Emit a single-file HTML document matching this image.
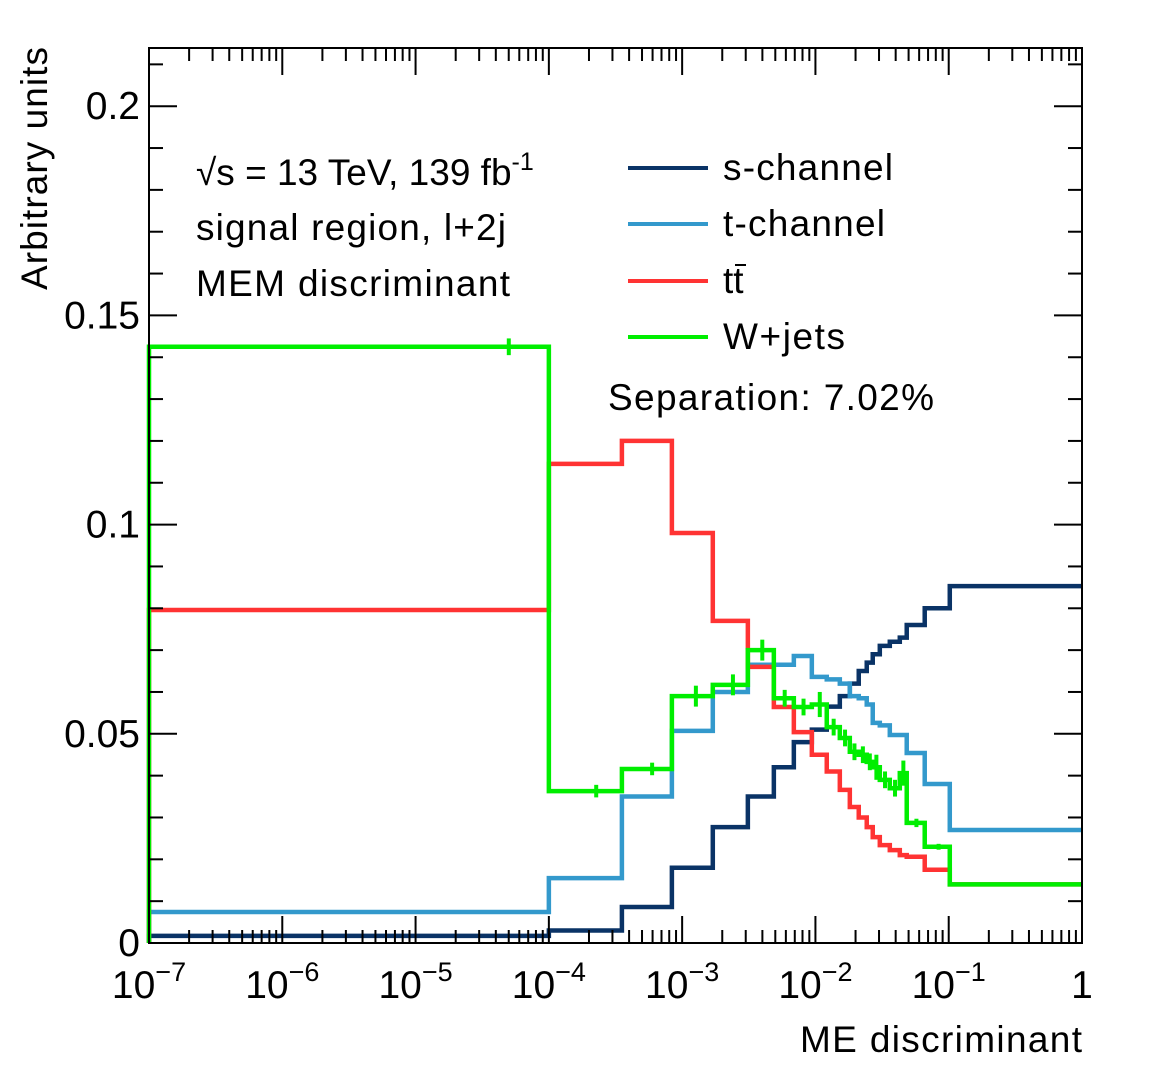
<!DOCTYPE html>
<html><head><meta charset="utf-8"><style>
body{margin:0;background:#fff}
svg{display:block;font-family:"Liberation Sans",sans-serif}
</style></head><body>
<svg id="chart" width="1152" height="1078" viewBox="0 0 1152 1078">
<rect width="1152" height="1078" fill="#fff"/>
<g id="plot"></g>
<g id="axes"></g>
<g id="legend">
<text x="196" y="185" font-size="37">√s = 13 TeV, 139 fb<tspan dy="-15" font-size="25">-1</tspan></text>
<text x="196" y="240" font-size="37" textLength="310">signal region, l+2j</text>
<text x="196" y="296" font-size="37" textLength="314">MEM discriminant</text>
<g><line x1="628" y1="168" x2="708" y2="168" stroke="#0a3366" stroke-width="4"/><text x="723" y="180" font-size="37" textLength="170">s-channel</text></g>
<g><line x1="628" y1="224" x2="708" y2="224" stroke="#3399cc" stroke-width="4"/><text x="723" y="236" font-size="37" textLength="162">t-channel</text></g>
<g><line x1="628" y1="281" x2="708" y2="281" stroke="#ff3333" stroke-width="4"/><text x="723" y="293" font-size="37">tt</text><line x1="735" y1="265" x2="746" y2="265" stroke="#000" stroke-width="2"/></g>
<g><line x1="628" y1="337" x2="708" y2="337" stroke="#00ee00" stroke-width="4"/><text x="723" y="349" font-size="37" textLength="122">W+jets</text></g>
<text x="608" y="410" font-size="37" textLength="326">Separation: 7.02%</text>
</g>
<text x="800" y="1052" font-size="37" textLength="282">ME discriminant</text>
<text transform="translate(47,290) rotate(-90)" font-size="37" textLength="243">Arbitrary units</text>
</svg>
<script>
const edgesLog = [-7,-4,-3.452,-3.077,-2.77,-2.507,-2.312,-2.162,-2.027,-1.915,-1.817,-1.742,-1.675,-1.615,-1.57,-1.517,-1.442,-1.367,-1.315,-1.18,-0.992,0];
const sChannel = [0.0017,0.003,0.0086,0.018,0.0277,0.035,0.042,0.048,0.051,0.0565,0.059,0.062,0.065,0.067,0.069,0.071,0.072,0.073,0.076,0.080,0.0853];
const tChannel = [0.0074,0.0155,0.035,0.0507,0.060,0.0665,0.0665,0.0686,0.0636,0.063,0.062,0.059,0.0585,0.057,0.0526,0.052,0.0497,0.0497,0.0454,0.038,0.027];
const ttbar = [0.0796,0.1145,0.12,0.098,0.077,0.066,0.0564,0.0504,0.045,0.041,0.0366,0.0325,0.030,0.0277,0.0253,0.0234,0.0222,0.021,0.0206,0.0175,0.014];
const wjets = [0.1425,0.0363,0.0416,0.059,0.0617,0.070,0.0585,0.0564,0.057,0.0516,0.049,0.0457,0.045,0.0433,0.042,0.039,0.037,0.0406,0.0287,0.023,0.014];
const wjetsErr = [0.002,0.0015,0.0015,0.0025,0.0025,0.0025,0.002,0.002,0.003,0.002,0.002,0.002,0.002,0.002,0.003,0.002,0.002,0.003,0.001,0.0007,0.0003];
const xMajorLabels = ["10","10","10","10","10","10","10","1"];
const xMajorExps = ["−7","−6","−5","−4","−3","−2","−1",""];
const yTickVals = [0,0.05,0.1,0.15,0.2];
const yTickLabels = ["0","0.05","0.1","0.15","0.2"];

const X0=149,X1=1082,Y0=943,YT=48;
const xs = l => X0 + (l+7)*(X1-X0)/7;
const ys = v => Y0 - v*4184;
const NS="http://www.w3.org/2000/svg";
function mk(tag,attrs,parent){const e=document.createElementNS(NS,tag);for(const k in attrs)e.setAttribute(k,attrs[k]);parent.appendChild(e);return e;}
const plot=document.getElementById('plot'), axes=document.getElementById('axes');

function hist(vals,color,name){
  let d=`M${xs(edgesLog[0])},${ys(0)}`;
  vals.forEach((v,i)=>{d+=` L${xs(edgesLog[i])},${ys(v)} L${xs(edgesLog[i+1])},${ys(v)}`;});
  const p=mk('path',{d:d,fill:'none',stroke:color,'stroke-width':4.5},plot);
  
  
}
hist(sChannel,'#0a3366','s-channel-histogram');
hist(tChannel,'#3399cc','t-channel-histogram');
hist(ttbar,'#ff3333','ttbar-histogram');
hist(wjets,'#00ee00','wjets-histogram');
wjets.forEach((v,i)=>{
  const c=Math.log10((Math.pow(10,edgesLog[i])+Math.pow(10,edgesLog[i+1]))/2);
  const x=xs(c);
  const l=mk('line',{x1:x,x2:x,y1:ys(v-wjetsErr[i]),y2:ys(v+wjetsErr[i]),stroke:'#00ee00','stroke-width':4},plot);
  
  
});

const fr=mk('rect',{x:X0,y:YT,width:X1-X0,height:Y0-YT,fill:'none',stroke:'#000','stroke-width':2},axes);


for(let d=-7;d<=0;d++){
  const x=xs(d);
  mk('line',{x1:x,x2:x,y1:Y0,y2:Y0-27,stroke:'#000','stroke-width':2},axes);
  mk('line',{x1:x,x2:x,y1:YT,y2:YT+27,stroke:'#000','stroke-width':2},axes);
  const t=mk('text',{x:x,y:998,'font-size':39,'text-anchor':'middle'},axes);
  
  
  t.textContent=xMajorLabels[d+7];
  if(xMajorExps[d+7]){const s=mk('tspan',{dy:-17,'font-size':27},t);s.textContent=xMajorExps[d+7];}
  if(d<0) for(let m=2;m<=9;m++){const xm=xs(d+Math.log10(m));
    mk('line',{x1:xm,x2:xm,y1:Y0,y2:Y0-13,stroke:'#000','stroke-width':2},axes);
    mk('line',{x1:xm,x2:xm,y1:YT,y2:YT+13,stroke:'#000','stroke-width':2},axes);}
}
for(let k=0;k<=21;k++){
  const v=k*0.01, y=ys(v), maj=(k%5===0), len=maj?28:14;
  mk('line',{x1:X0,x2:X0+len,y1:y,y2:y,stroke:'#000','stroke-width':2},axes);
  mk('line',{x1:X1,x2:X1-len,y1:y,y2:y,stroke:'#000','stroke-width':2},axes);
}
yTickVals.forEach((v,i)=>{
  const t=mk('text',{x:140,y:ys(v)+13,'font-size':39,'text-anchor':'end'},axes);
  t.textContent=yTickLabels[i];
  
  
});
</script>
</body></html>
